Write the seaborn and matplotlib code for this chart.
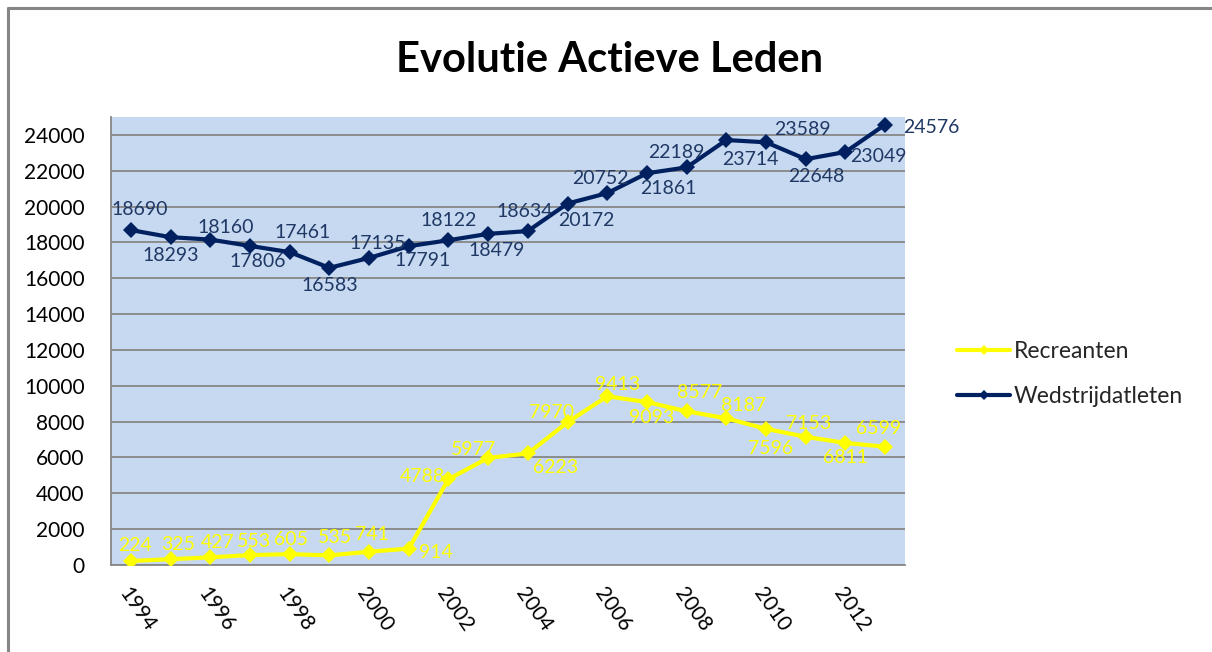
# ==========================================================
# Evolutie Actieve Leden - Recreanten vs Wedstrijdatleten
# ==========================================================

import pandas as pd
import numpy as np
import matplotlib
matplotlib.use("Agg")
import matplotlib.pyplot as plt
import matplotlib.transforms as mtransforms
from matplotlib.lines import Line2D
import seaborn as sns

# ----------------------------------------------------------
# Data
# ----------------------------------------------------------

years = list(range(1994, 2014))

recreanten = [224, 325, 427, 553, 605, 535, 741, 914, 4788, 5977,
              6223, 7970, 9413, 9093, 8577, 8187, 7596, 7153, 6811, 6599]

wedstrijdatleten = [18690, 18293, 18160, 17806, 17461, 16583, 17135, 17791, 18122, 18479,
                    18634, 20172, 20752, 21861, 22189, 23714, 23589, 22648, 23049, 24576]

series_names = ["Recreanten", "Wedstrijdatleten"]
year_ticks = list(range(1994, 2013, 2))
y_ticks = list(range(0, 24001, 2000))

# label placement (pixel offsets from the point, image y down)
offs_rec = [(4, -15), (8, -15), (7, -15), (4, -14), (1, -15), (6, -18), (3, -17),
            (27, 4), (-26, -3), (-15, -8), (28, 14), (-16, -10), (10, -12), (5, 15),
            (13, -19), (17, -13), (5, 20), (3, -13), (0, 15), (-7, -18)]
offs_wed = [(9, -21), (0, 18), (15, -12), (8, 16), (13, -20), (0, 18), (9, -14),
            (14, 14), (0, -20), (9, 17), (-3, -20), (19, 17), (-7, -15), (21, 15),
            (-10, -15), (24, 19), (36, -13), (11, 17), (33, 5), (46, 3)]

df = pd.DataFrame({
    "jaar": years * 2,
    "leden": recreanten + wedstrijdatleten,
    "reeks": [series_names[0]] * len(years) + [series_names[1]] * len(years),
})

# ----------------------------------------------------------
# Style
# ----------------------------------------------------------

sns.set_style("white")
plt.rcParams["font.family"] = ["Lato", "DejaVu Sans"]

yellow = "#FFFF00"
navy = "#002060"
navy_text = "#1F3864"
grid_gray = "#868686"
plot_bg = "#C6D9F1"

W, H = 1212, 652
fig = plt.figure(figsize=(W / 100, H / 100), dpi=100)
fig.patch.set_facecolor("white")

ax = fig.add_axes([111 / W, 1 - 565 / H, (905 - 111) / W, (565 - 117) / H])
ax.set_facecolor(plot_bg)

sns.lineplot(
    data=df, x="jaar", y="leden", hue="reeks",
    palette={series_names[0]: yellow, series_names[1]: navy},
    style="reeks", markers={series_names[0]: "D", series_names[1]: "D"},
    dashes=False, markersize=8, linewidth=3, markeredgewidth=0,
    legend=False, ax=ax, zorder=3,
)

# ----------------------------------------------------------
# Data labels
# ----------------------------------------------------------

for vals, offs, col in [(recreanten, offs_rec, yellow), (wedstrijdatleten, offs_wed, navy_text)]:
    for x, v, (dx, dy) in zip(years, vals, offs):
        ax.annotate(str(v), (x, v), xytext=(dx, -dy), textcoords="offset pixels",
                    ha="center", va="center", fontsize=14, color=col,
                    annotation_clip=False, zorder=4)

# ----------------------------------------------------------
# Axes
# ----------------------------------------------------------

ax.set_xlim(years[0] - 0.5, years[-1] + 0.5)
ax.set_ylim(0, 25000)
ax.set_yticks(y_ticks)
ax.set_yticklabels([str(t) for t in y_ticks])
ax.yaxis.grid(True, color=grid_gray, linewidth=1.3)
ax.xaxis.grid(False)
ax.set_axisbelow(True)

ax.set_xticks(year_ticks)
ax.set_xticklabels([str(y) for y in year_ticks], rotation=-55, ha="left",
                   va="center", rotation_mode="anchor", fontsize=15)
ax.set_xticks(np.arange(years[0] - 0.5, years[-1] + 1.0, 1.0), minor=True)
ax.tick_params(axis="x", which="major", length=0, pad=18)
ax.tick_params(axis="x", which="minor", length=6, width=1.3, color=grid_gray, direction="out")
ax.tick_params(axis="y", length=6, width=1.3, color=grid_gray, direction="out",
               pad=13, labelsize=15)
ax.tick_params(axis="both", labelcolor="black")

shift = mtransforms.ScaledTranslation(-0.08, 0, fig.dpi_scale_trans)
for lbl in ax.get_xticklabels():
    lbl.set_transform(lbl.get_transform() + shift)

for s in ["top", "right"]:
    ax.spines[s].set_visible(False)
for s in ["left", "bottom"]:
    ax.spines[s].set_color(grid_gray)
    ax.spines[s].set_linewidth(1.3)

ax.set_xlabel("")
ax.set_ylabel("")

# ----------------------------------------------------------
# Title, legend, chart border
# ----------------------------------------------------------

fig.text(610 / W, 1 - 60 / H, "Evolutie Actieve Leden", ha="center", va="center",
         fontsize=30, fontweight="bold", color="black")

handles = [
    Line2D([], [], color=yellow, lw=3, marker="D", markersize=5, markeredgewidth=0),
    Line2D([], [], color=navy, lw=3, marker="D", markersize=5, markeredgewidth=0),
]
fig.legend(handles, series_names, loc="center left",
           bbox_to_anchor=(946 / W, 1 - 374 / H), frameon=False, fontsize=16.5,
           handlelength=2.3, handletextpad=0.15, labelspacing=1.05, borderpad=0)

fig.add_artist(Line2D([8 / W, 8 / W], [0, 1 - 8 / H], color=grid_gray, lw=2.2,
                      transform=fig.transFigure))
fig.add_artist(Line2D([8 / W, 1], [1 - 8 / H, 1 - 8 / H], color=grid_gray, lw=2.2,
                      transform=fig.transFigure))

fig.savefig("out.png", dpi=100)
